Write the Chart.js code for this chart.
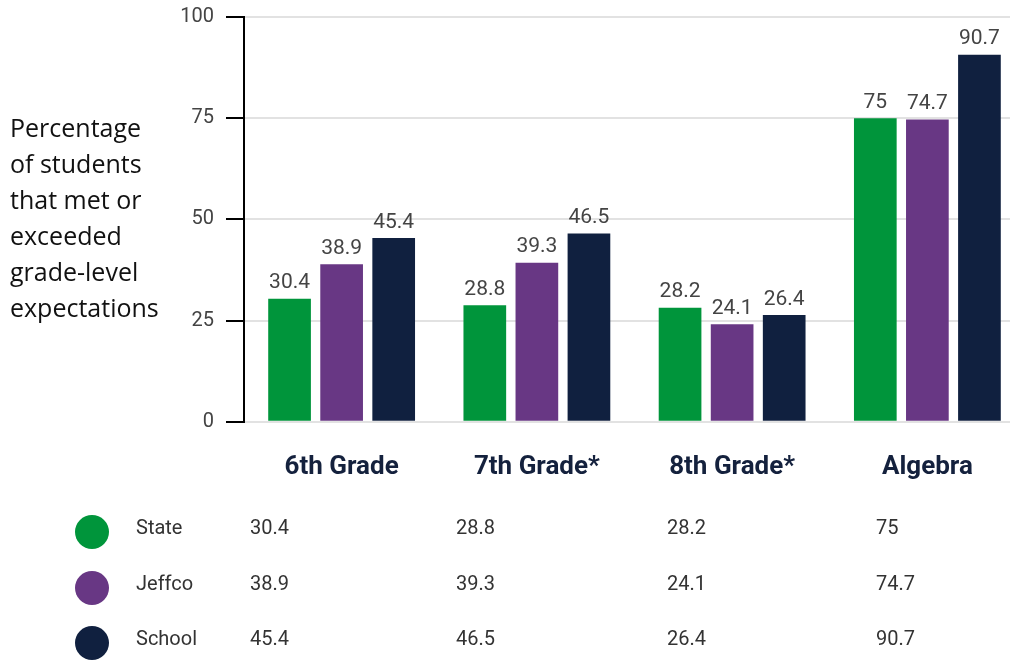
<!DOCTYPE html>
<html>
<head>
<meta charset="utf-8">
<script src="https://cdn.jsdelivr.net/npm/chart.js@4.4.1/dist/chart.umd.min.js"></script>
<style>
    html, body { margin: 0; padding: 0; background: #fff; overflow: hidden; }
    body { width: 1010px; height: 661px; position: relative; }
    #wrap { position: absolute; left: 0; top: -7px; width: 1025px; height: 512px; }
    #tituloY {
        position: absolute; left: 10px; top: 109px;
        font-family: "Open Sans", sans-serif; font-size: 25px; line-height: 36px; color: #111;
    }
    #tabela { position: absolute; left: 0; top: 0; width: 1010px; height: 661px; pointer-events: none; }
    .linha { position: absolute; left: 0; height: 40px; width: 1010px; }
    .bola { position: absolute; left: 75px; top: 3px; width: 34px; height: 34px; border-radius: 50%; }
    .txt { position: absolute; top: 3px; font-family: Roboto, sans-serif; font-size: 20px; color: #333; line-height: 24px; }
</style>
</head>
<body>
<div id="wrap"><canvas id="grafico" width="1025" height="512"></canvas></div>
<div id="tituloY">Percentage<br>of students<br>that met or<br>exceeded<br>grade-level<br>expectations</div>
<div id="tabela"></div>

<script>
const categorias = ["6th Grade", "7th Grade*", "8th Grade*", "Algebra"];
const nomesSeries = ["State", "Jeffco", "School"];
const valoresState = [30.4, 28.8, 28.2, 75];
const valoresJeffco = [38.9, 39.3, 24.1, 74.7];
const valoresSchool = [45.4, 46.5, 26.4, 90.7];
const ticksY = [0, 25, 50, 75, 100];

const cores = ["#00953b", "#683784", "#10203f"];
const todasSeries = [valoresState, valoresJeffco, valoresSchool];

// rotulos em cima das barras
const rotulosBarras = {
    id: "rotulosBarras",
    afterDatasetsDraw(chart) {
        const ctx = chart.ctx;
        ctx.save();
        ctx.font = "21px Roboto, sans-serif";
        ctx.fillStyle = "#444";
        ctx.textAlign = "center";
        ctx.textBaseline = "bottom";
        chart.data.datasets.forEach((ds, i) => {
            const meta = chart.getDatasetMeta(i);
            meta.data.forEach((barra, j) => {
                ctx.fillText(String(ds.data[j]), barra.x, barra.y - 5);
            });
        });
        ctx.restore();
    }
};

new Chart(document.getElementById("grafico"), {
    type: "bar",
    data: {
        labels: categorias,
        datasets: nomesSeries.map((nome, i) => ({
            label: nome,
            data: todasSeries[i],
            backgroundColor: cores[i],
            categoryPercentage: 0.8,
            barPercentage: 0.82
        }))
    },
    options: {
        responsive: false,
        animation: false,
        layout: { padding: { top: 4, right: 0, bottom: 0, left: 0 } },
        plugins: {
            legend: { display: false },
            tooltip: { enabled: false }
        },
        scales: {
            x: {
                grid: { display: false },
                border: { display: false },
                ticks: {
                    padding: 22,
                    color: "#14213d",
                    font: { family: "Roboto, sans-serif", size: 26, weight: "bold" }
                }
            },
            y: {
                min: 0,
                max: 100,
                afterFit(scale) { scale.width = 244; },
                afterBuildTicks(scale) { scale.ticks = ticksY.map(v => ({ value: v })); },
                grid: {
                    color: "#e2e2e2",
                    lineWidth: 2,
                    tickColor: "#000",
                    tickLength: 18,
                    tickWidth: 2
                },
                border: { display: true, color: "#000", width: 2 },
                ticks: {
                    padding: 12,
                    color: "#444",
                    font: { family: "Roboto, sans-serif", size: 20 }
                }
            }
        }
    },
    plugins: [rotulosBarras]
});

// tabela de valores embaixo
const tabela = document.getElementById("tabela");
const topoLinhas = [512, 568, 623];
const colunasX = [250, 456, 667, 876];
nomesSeries.forEach((nome, i) => {
    const linha = document.createElement("div");
    linha.className = "linha";
    linha.style.top = topoLinhas[i] + "px";
    let html = `<div class="bola" style="background:${cores[i]}"></div>`;
    html += `<div class="txt" style="left:136px">${nome}</div>`;
    todasSeries[i].forEach((v, j) => {
        html += `<div class="txt" style="left:${colunasX[j]}px">${v}</div>`;
    });
    linha.innerHTML = html;
    tabela.appendChild(linha);
});
</script>
</body>
</html>
